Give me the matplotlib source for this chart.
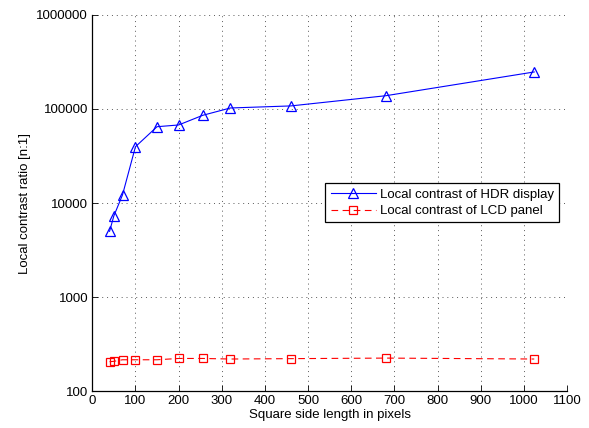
import numpy as np
import matplotlib
matplotlib.use("Agg")
import matplotlib.pyplot as plt
from matplotlib.ticker import FixedLocator, FuncFormatter, NullLocator

plt.rcParams["font.family"] = ["Liberation Sans", "DejaVu Sans"]
plt.rcParams["font.size"] = 9.5

# -------------------- Data --------------------
side_px = [40, 50, 70, 100, 150, 200, 256, 320, 460, 680, 1024]
hdr_contrast = [5000, 7300, 12200, 39700, 64800, 67600, 85700, 102500, 107800, 138400, 247700]
lcd_contrast = [205, 207, 215, 215, 215, 222, 222, 219, 221, 224, 219]

x_ticks = list(range(0, 1101, 100))
y_ticks = [100, 1000, 10000, 100000, 1000000]

# -------------------- Plot --------------------
fig = plt.figure(figsize=(5.89, 4.28), dpi=100)
ax = fig.add_axes([0.1567, 0.0864, 0.806, 0.8786])

ax.plot(side_px, hdr_contrast, "b-", marker="^", markersize=7.5,
        markerfacecolor="none", markeredgecolor="b", linewidth=0.8,
        markeredgewidth=0.9, label="Local contrast of HDR display")
ax.plot(side_px, lcd_contrast, "r--", marker="s", markersize=6,
        markerfacecolor="none", markeredgecolor="r", linewidth=0.8,
        markeredgewidth=0.9, dashes=(6, 4), label="Local contrast of LCD panel")

ax.set_yscale("log")
ax.set_xlim(0, 1100)
ax.set_ylim(100, 1000000)
ax.xaxis.set_major_locator(FixedLocator(x_ticks))
ax.yaxis.set_major_locator(FixedLocator(y_ticks))
ax.yaxis.set_major_formatter(FuncFormatter(lambda v, p: "%d" % v))
ax.yaxis.set_minor_locator(NullLocator())

ax.tick_params(direction="in", which="both", top=False, right=False)
ax.tick_params(which="major", length=4, width=0.6, pad=3)

ax.spines["top"].set_visible(False)
ax.spines["right"].set_visible(False)
ax.spines["left"].set_linewidth(0.9)
ax.spines["bottom"].set_linewidth(0.9)

ax.grid(True, which="major", linestyle=(0, (1, 4)), color="0.35", linewidth=0.7)

ax.set_xlabel("Square side length in pixels", labelpad=1)
ax.set_ylabel("Local contrast ratio [n:1]", labelpad=4)

leg = ax.legend(loc="upper right", bbox_to_anchor=(0.984, 0.552),
                fancybox=False, framealpha=1, edgecolor="k",
                borderpad=0.4, handlelength=3.4, handletextpad=0.35,
                labelspacing=0.3, borderaxespad=0)
leg.get_frame().set_linewidth(0.9)

fig.savefig("out.png", dpi=100)
